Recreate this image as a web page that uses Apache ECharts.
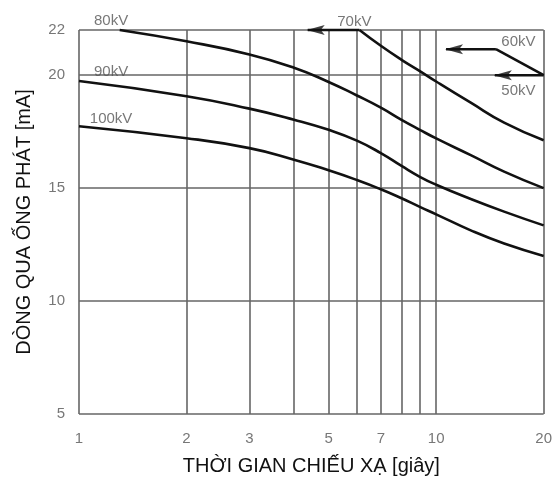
<!DOCTYPE html>
<html><head><meta charset="utf-8">
<script src="https://cdn.jsdelivr.net/npm/echarts@6/dist/echarts.min.js"></script>
<style>html,body{margin:0;padding:0;background:#fff}#c{width:555px;height:482px}</style>
</head><body><div id="c"></div>
<script>
// Axis ticks / grid
const timeTicks = [1, 2, 3, 5, 7, 10, 20];
const timeGrid = [1, 2, 3, 4, 5, 6, 7, 8, 9, 10, 20];
const currentTicks = [5, 10, 15, 20, 22];

// Curves (time in s, current in mA)
const t80 = [1.3, 2, 3, 4, 5, 6, 7, 8, 9, 10, 12.5, 15.5, 20];
const mA80 = [22.0, 21.5, 20.92, 20.33, 19.7, 19.1, 18.56, 18.02, 17.58, 17.2, 16.46, 15.73, 15.0];
const t90 = [1, 2, 3, 4, 5, 6, 7, 8, 9, 10, 12.5, 15.5, 20];
const mA90 = [19.74, 19.07, 18.52, 18.03, 17.58, 17.1, 16.55, 15.98, 15.5, 15.15, 14.52, 13.96, 13.35];
const t100 = [1, 2, 3, 4, 5, 6, 7, 8, 9, 10, 12.5, 15.5, 20];
const mA100 = [17.74, 17.21, 16.77, 16.26, 15.79, 15.36, 14.95, 14.55, 14.17, 13.84, 13.13, 12.55, 12.0];
const t70 = [6.1, 7, 8, 9, 10, 12.5, 15.5, 20];
const mA70 = [22.0, 21.3, 20.68, 20.18, 19.72, 18.78, 17.9, 17.12];
const t60 = [14.7, 20];
const mA60 = [21.15, 20.0];

// Arrows: [from time, tip time, current]
const arrow70 = [6.1, 4.37, 22];
const arrow60 = [14.7, 10.66, 21.15];
const arrow50 = [20, 14.6, 20];

// Curve labels: [text, time, current]
const curveLabels = [
  ['80kV', 1.23, 22.4], ['90kV', 1.23, 20.15], ['100kV', 1.23, 18.05],
  ['70kV', 5.9, 22.35], ['60kV', 17, 21.47], ['50kV', 17, 19.3]
];

const FONT = 'Liberation Sans, Arial, sans-serif';
const zip = (xs, ys) => xs.map((x, i) => [x, ys[i]]);
const ARROW_LEFT = 'path://M0,5 L18,0 L14,5 L18,10 Z';

function curve(name, xs, ys, smooth) {
  return {
    name, type: 'line', data: zip(xs, ys), smooth: smooth, clip: false,
    showSymbol: false, lineStyle: { color: '#111', width: 2.6 }, z: 5, silent: true
  };
}
function shaft(name, a) {
  return curve(name, [a[0], a[1]], [a[2], a[2]], false);
}

const chart = echarts.init(document.getElementById('c'), null, { renderer: 'canvas' });
chart.setOption({
  animation: false,
  backgroundColor: '#fff',
  grid: { left: 79, right: 8, top: 30, bottom: 68 },
  xAxis: {
    type: 'log', logBase: 10, min: 1, max: 20,
    axisLine: { show: false }, axisTick: { show: false },
    splitLine: { show: false }, minorSplitLine: { show: false },
    axisLabel: { customValues: timeTicks, color: '#777', fontSize: 15, margin: 17, fontFamily: FONT },
    name: 'THỜI GIAN CHIẾU XẠ [giây]', nameLocation: 'middle', nameGap: 42,
    nameTextStyle: { fontSize: 20, color: '#111', fontFamily: FONT }
  },
  yAxis: {
    type: 'value', min: 5, max: 22, interval: 1,
    axisLine: { show: false }, axisTick: { show: false }, splitLine: { show: false },
    axisLabel: {
      formatter: v => currentTicks.includes(v) ? String(v) : '',
      color: '#777', fontSize: 15, margin: 14, fontFamily: FONT
    },
    name: 'DÒNG QUA ỐNG PHÁT [mA]', nameLocation: 'middle', nameGap: 45,
    nameTextStyle: { fontSize: 20, color: '#111', fontFamily: FONT }
  },
  series: [
    {
      name: 'grid', type: 'line', data: [], silent: true, z: 1,
      markLine: {
        silent: true, symbol: 'none', animation: false,
        label: { show: false },
        lineStyle: { color: '#666', width: 1.6, type: 'solid' },
        data: timeGrid.map(t => ({ xAxis: t })).concat(currentTicks.map(v => ({ yAxis: v })))
      }
    },
    curve('80kV', t80, mA80, 0.5),
    curve('90kV', t90, mA90, 0.5),
    curve('100kV', t100, mA100, 0.5),
    curve('70kV', t70, mA70, 0.5),
    curve('60kV', t60, mA60, false),
    shaft('70kV arrow', arrow70),
    shaft('60kV arrow', arrow60),
    shaft('50kV arrow', arrow50),
    {
      name: 'arrowheads', type: 'scatter', silent: true, z: 7, clip: false,
      symbol: ARROW_LEFT, symbolSize: [18, 10], symbolOffset: [8, 0],
      itemStyle: { color: '#111' },
      data: [arrow70, arrow60, arrow50].map(a => [a[1], a[2]])
    },
    {
      name: 'labels', type: 'scatter', silent: true, z: 6, clip: false,
      symbolSize: 1, itemStyle: { color: 'rgba(0,0,0,0)' },
      data: curveLabels.map(l => ({ value: [l[1], l[2]], name: l[0] })),
      label: {
        show: true, position: 'inside', formatter: p => p.name,
        color: '#555', fontSize: 15, fontFamily: FONT
      }
    }
  ]
});
</script>
</body></html>
